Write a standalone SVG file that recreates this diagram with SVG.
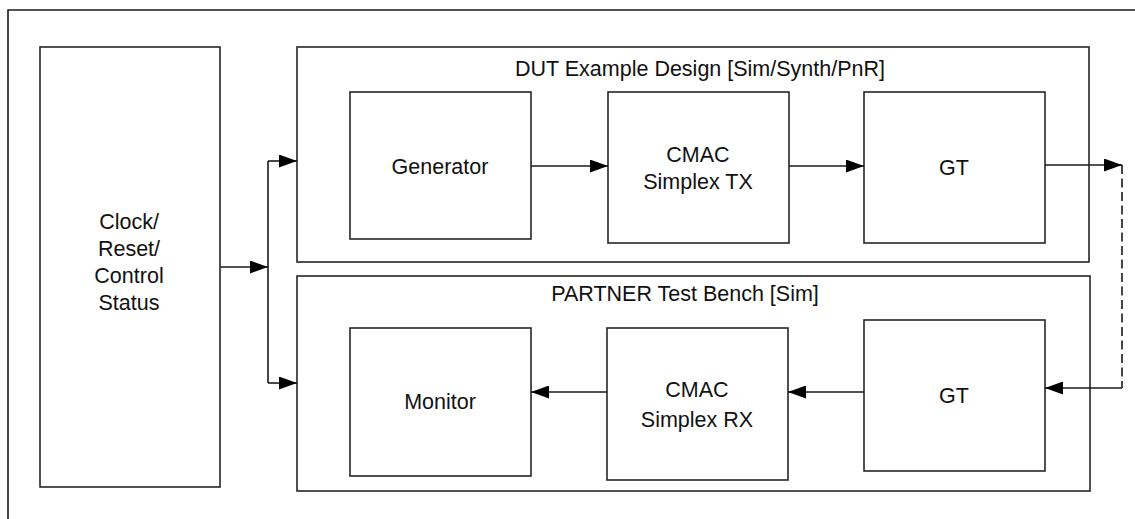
<svg xmlns="http://www.w3.org/2000/svg" width="1135" height="519" viewBox="0 0 1135 519">
  <style>
    .box { fill: #ffffff; stroke: #262626; stroke-width: 1.6; }
    .wire { fill: none; stroke: #1a1a1a; stroke-width: 1.6; }
    .dash { stroke-dasharray: 9 4.5; }
    .lbl { font-family: "Liberation Sans", Arial, sans-serif; font-size: 21.5px; fill: #111111; text-anchor: middle; }
  </style>
  <defs>
    <marker id="arrow" viewBox="0 0 18 13" refX="18" refY="6.5" markerWidth="18" markerHeight="13" markerUnits="userSpaceOnUse" orient="auto">
      <path d="M0,0 L18,6.5 L0,13 Z" fill="#000000"/>
    </marker>
  </defs>
  <rect width="1135" height="519" fill="#ffffff"/>

  <!-- outer frame (top and left edges visible) -->
  <path class="wire" d="M8,519 L8,10 L1135,10"/>

  <g id="clock-reset">
    <rect class="box" x="40" y="47" width="180" height="440"/>
    <text class="lbl" x="129" y="229">Clock/</text>
    <text class="lbl" x="129" y="256">Reset/</text>
    <text class="lbl" x="129" y="283">Control</text>
    <text class="lbl" x="129" y="310">Status</text>
  </g>

  <g id="dut">
    <rect class="box" x="297" y="47" width="792" height="215"/>
    <text class="lbl" x="700" y="76">DUT Example Design [Sim/Synth/PnR]</text>
  </g>

  <g id="partner">
    <rect class="box" x="297" y="276" width="793" height="215"/>
    <text class="lbl" x="685" y="301">PARTNER Test Bench [Sim]</text>
  </g>

  <g id="generator">
    <rect class="box" x="350" y="92" width="181" height="147"/>
    <text class="lbl" x="440" y="174">Generator</text>
  </g>

  <g id="cmac-tx">
    <rect class="box" x="608" y="92" width="181" height="151"/>
    <text class="lbl" x="698" y="162">CMAC</text>
    <text class="lbl" x="698" y="189">Simplex TX</text>
  </g>

  <g id="gt-tx">
    <rect class="box" x="864" y="92" width="181" height="151"/>
    <text class="lbl" x="954" y="175">GT</text>
  </g>

  <g id="monitor">
    <rect class="box" x="350" y="328" width="181" height="148"/>
    <text class="lbl" x="440" y="409">Monitor</text>
  </g>

  <g id="cmac-rx">
    <rect class="box" x="607" y="328" width="181" height="152"/>
    <text class="lbl" x="697" y="397">CMAC</text>
    <text class="lbl" x="697" y="427">Simplex RX</text>
  </g>

  <g id="gt-rx">
    <rect class="box" x="864" y="320" width="181" height="151"/>
    <text class="lbl" x="954" y="403">GT</text>
  </g>

  <g id="connectors">
    <!-- control fan-out -->
    <line class="wire" x1="220" y1="267" x2="268" y2="267" marker-end="url(#arrow)"/>
    <line class="wire" x1="268" y1="161" x2="268" y2="383"/>
    <line class="wire" x1="268" y1="161" x2="297" y2="161" marker-end="url(#arrow)"/>
    <line class="wire" x1="268" y1="383" x2="297" y2="383" marker-end="url(#arrow)"/>
    <!-- TX path -->
    <line class="wire" x1="531" y1="166" x2="608" y2="166" marker-end="url(#arrow)"/>
    <line class="wire" x1="789" y1="166" x2="864" y2="166" marker-end="url(#arrow)"/>
    <line class="wire" x1="1045" y1="165" x2="1122" y2="165" marker-end="url(#arrow)"/>
    <!-- loopback -->
    <line class="wire dash" x1="1122" y1="165" x2="1122" y2="388"/>
    <line class="wire" x1="1122" y1="388" x2="1045" y2="388" marker-end="url(#arrow)"/>
    <!-- RX path -->
    <line class="wire" x1="864" y1="392" x2="788" y2="392" marker-end="url(#arrow)"/>
    <line class="wire" x1="607" y1="392" x2="531" y2="392" marker-end="url(#arrow)"/>
  </g>
</svg>
